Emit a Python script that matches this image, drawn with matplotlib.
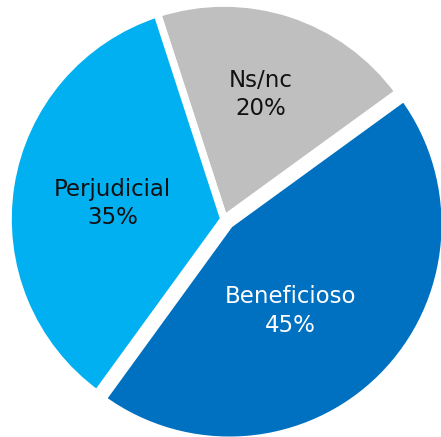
# -*- coding: utf-8 -*-

# plot.py - opinion pie chart

import matplotlib.pyplot as plt
import numpy as np

labels = ['Ns/nc', 'Beneficioso', 'Perjudicial']
values = [20, 45, 35]
colors = ['#BFBFBF', '#0070C0', '#00B0F0']
text_colors = ['#111111', 'white', '#111111']


if __name__ == "__main__":
    fig = plt.figure(figsize=(4.41, 4.37), dpi=100)
    ax = fig.add_axes([0, 0, 1, 1])

    wedges, _ = ax.pie(values, colors=colors, startangle=108,
                       counterclock=False, radius=1.0,
                       explode=[0, 0.035, 0],
                       wedgeprops=dict(edgecolor='white', linewidth=5.5))

    # label placement: (distance, angle tweak) per wedge
    place = [(0.60, 1.5), (0.49, -10), (0.52, 1)]
    for w, lab, val, tc, (d, da) in zip(wedges, labels, values,
                                         text_colors, place):
        ang = np.deg2rad((w.theta1 + w.theta2) / 2 + da)
        cx, cy = w.center
        ax.text(cx + d * np.cos(ang), cy + d * np.sin(ang),
                '%s\n%d%%' % (lab, val), ha='center', va='center',
                color=tc, fontsize=16.5, family='DejaVu Sans',
                linespacing=1.3)

    r = 216.0
    ax.set_xlim(-224 / r, (441 - 224) / r)
    ax.set_ylim(-(437 - 219) / r, 219 / r)
    ax.set_aspect('auto')
    ax.axis('off')

    plt.savefig('out.png', dpi=100)
